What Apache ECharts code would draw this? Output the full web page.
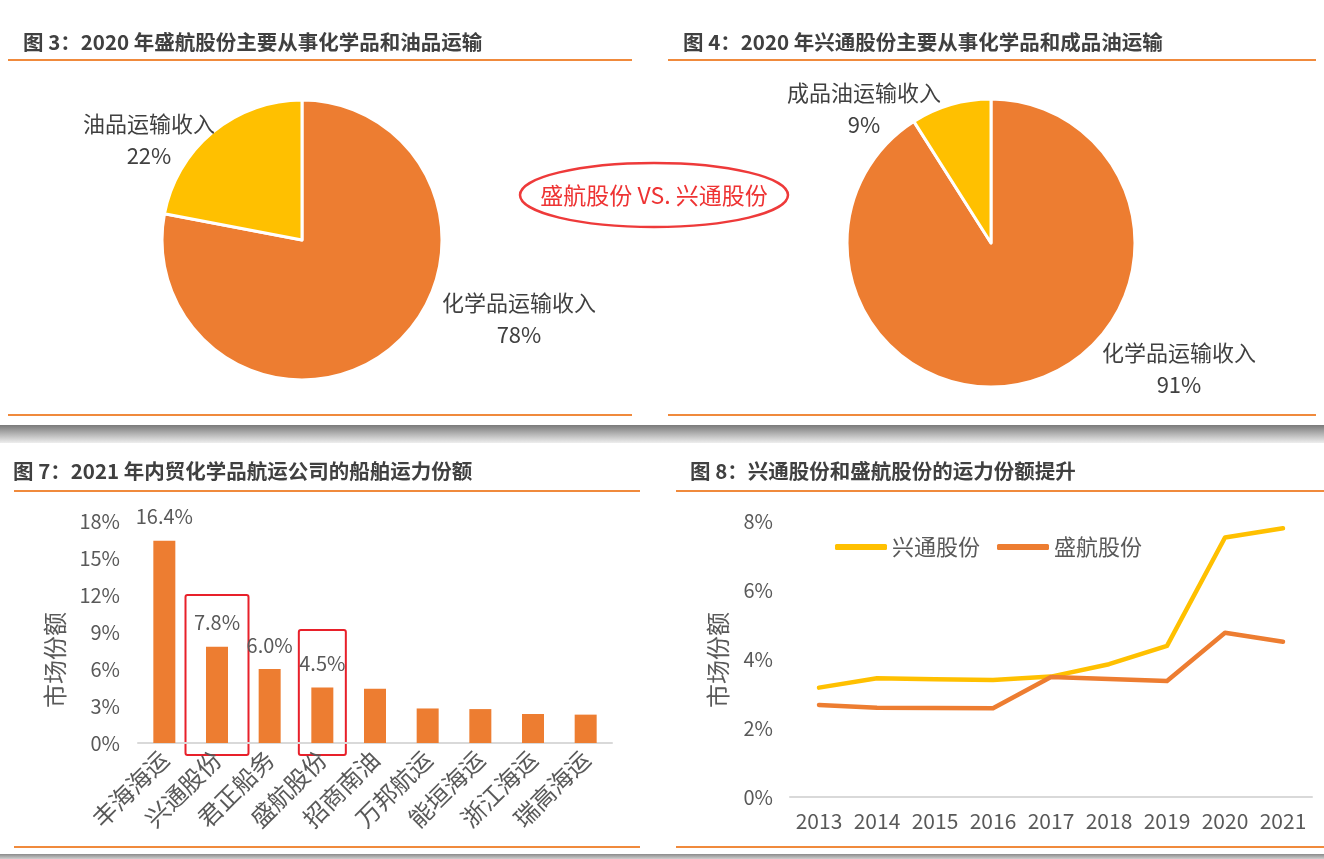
<!DOCTYPE html>
<html>
<head>
<meta charset="utf-8">
<script src="https://cdn.jsdelivr.net/npm/echarts@6/dist/echarts.min.js"></script>
<style>
  html, body { margin: 0; padding: 0; background: #fff; }
  #main { width: 1324px; height: 859px; }
</style>
</head>
<body>
<div id="main"></div>
<script>
// 数据
const pie1Data = [
  { name: '化学品运输收入', value: 78 },
  { name: '油品运输收入', value: 22 }
];
const pie2Data = [
  { name: '化学品运输收入', value: 91 },
  { name: '成品油运输收入', value: 9 }
];
const companies = ['丰海海运', '兴通股份', '君正船务', '盛航股份', '招商南油', '万邦航运', '能垣海运', '浙江海运', '瑞高海运'];
const shares = [16.4, 7.8, 6.0, 4.5, 4.4, 2.8, 2.75, 2.35, 2.3];
const years = ['2013', '2014', '2015', '2016', '2017', '2018', '2019', '2020', '2021'];
const xingtong = [3.17, 3.44, 3.41, 3.39, 3.49, 3.85, 4.38, 7.52, 7.79];
const shenghang = [2.67, 2.59, 2.58, 2.57, 3.48, 3.42, 3.36, 4.76, 4.50];

// 饼图标签位置
const pie1LabelPos = [[519, 319], [149, 140]];
const pie2LabelPos = [[1179, 369], [864, 109]];

const ORANGE = '#ED7D31';
const YELLOW = '#FFC000';
const PIE_COLORS = [ORANGE, YELLOW];
const TXT = '#595959';
const FONT = '"Noto Sans CJK SC", "Noto Sans", sans-serif';

let myChart = echarts.init(document.getElementById('main'));

function title(x, y, text) {
  return {
    type: 'text', x: x, y: y,
    style: { text: text, fill: '#404040', font: 'bold 20.5px ' + FONT, textVerticalAlign: 'middle' }
  };
}
function hline(x1, x2, y) {
  return {
    type: 'line', shape: { x1: x1, y1: y, x2: x2, y2: y },
    style: { stroke: '#F08A3C', lineWidth: 2 }
  };
}
function yName(x, y) {
  return {
    type: 'text', x: x, y: y, rotation: Math.PI / 2,
    style: { text: '市场份额', fill: TXT, font: '24px ' + FONT, textAlign: 'center', textVerticalAlign: 'middle' }
  };
}

const pieLabel = {
  show: true,
  color: '#404040',
  fontSize: 22,
  lineHeight: 32,
  fontFamily: FONT,
  formatter: p => p.name + '\n' + p.value + '%'
};

myChart.setOption({
  animation: false,
  textStyle: { fontFamily: FONT },
  legend: {
    data: ['兴通股份', '盛航股份'],
    left: 830, top: 531,
    icon: 'roundRect',
    itemWidth: 52, itemHeight: 6, itemGap: 17,
    textStyle: { color: TXT, fontSize: 22 }
  },
  grid: [
    { left: 138, right: 712, top: 521, bottom: 116 },
    { left: 790, right: 12, top: 521, bottom: 62 }
  ],
  xAxis: [
    {
      gridIndex: 0, type: 'category', data: companies,
      axisLine: { lineStyle: { color: '#d9d9d9', width: 2 } },
      axisTick: { show: false },
      axisLabel: { rotate: 45, color: TXT, fontSize: 24, margin: 12, interval: 0 }
    },
    {
      gridIndex: 1, type: 'category', data: years,
      axisLine: { lineStyle: { color: '#d9d9d9', width: 2 } },
      axisTick: { show: false },
      axisLabel: { color: TXT, fontSize: 21, margin: 14, interval: 0 }
    }
  ],
  yAxis: [
    {
      gridIndex: 0, type: 'value', min: 0, max: 18, interval: 3,
      axisLine: { show: false }, axisTick: { show: false }, splitLine: { show: false },
      axisLabel: { color: TXT, fontSize: 20, margin: 18, formatter: '{value}%' }
    },
    {
      gridIndex: 1, type: 'value', min: 0, max: 8, interval: 2,
      axisLine: { show: false }, axisTick: { show: false }, splitLine: { show: false },
      axisLabel: { color: TXT, fontSize: 20, margin: 17, formatter: '{value}%' }
    }
  ],
  series: [
    {
      type: 'pie', center: [302, 240], radius: 140, startAngle: 90,
      data: pie1Data,
      itemStyle: { color: p => PIE_COLORS[p.dataIndex], borderColor: '#fff', borderWidth: 3 },
      label: pieLabel, labelLine: { show: false },
      labelLayout: p => ({ x: pie1LabelPos[p.dataIndex][0], y: pie1LabelPos[p.dataIndex][1], align: 'center', verticalAlign: 'middle' })
    },
    {
      type: 'pie', center: [991, 243], radius: 144, startAngle: 90,
      data: pie2Data,
      itemStyle: { color: p => PIE_COLORS[p.dataIndex], borderColor: '#fff', borderWidth: 3 },
      label: pieLabel, labelLine: { show: false },
      labelLayout: p => ({ x: pie2LabelPos[p.dataIndex][0], y: pie2LabelPos[p.dataIndex][1], align: 'center', verticalAlign: 'middle' })
    },
    {
      type: 'bar', xAxisIndex: 0, yAxisIndex: 0,
      barWidth: 22,
      itemStyle: { color: ORANGE },
      data: shares.map((v, i) => ({ value: v, label: { show: i < 4 } })),
      label: {
        position: 'top', distance: 14, color: TXT, fontSize: 20,
        formatter: p => p.value.toFixed(1) + '%'
      }
    },
    {
      name: '兴通股份', type: 'line', xAxisIndex: 1, yAxisIndex: 1,
      data: xingtong, showSymbol: false, symbol: 'none',
      itemStyle: { color: YELLOW },
      lineStyle: { color: YELLOW, width: 4.5, cap: 'round', join: 'round' }
    },
    {
      name: '盛航股份', type: 'line', xAxisIndex: 1, yAxisIndex: 1,
      data: shenghang, showSymbol: false, symbol: 'none',
      itemStyle: { color: ORANGE },
      lineStyle: { color: ORANGE, width: 4.5, cap: 'round', join: 'round' }
    }
  ]
});

// 装饰：标题、分隔线、阴影、椭圆标注、红框
function boxAround(idx, halfW, top) {
  const c = myChart.convertToPixel({ gridIndex: 0 }, [idx, 0]);
  return {
    type: 'rect',
    shape: { x: c[0] - halfW, y: top, width: halfW * 2, height: c[1] + 12 - top, r: 2 },
    style: { fill: 'none', stroke: '#E8202A', lineWidth: 2 }
  };
}

myChart.setOption({
  graphic: [
    title(23, 42, '图 3：2020 年盛航股份主要从事化学品和油品运输'),
    title(683, 42, '图 4：2020 年兴通股份主要从事化学品和成品油运输'),
    title(13, 471, '图 7：2021 年内贸化学品航运公司的船舶运力份额'),
    title(690, 471, '图 8：兴通股份和盛航股份的运力份额提升'),
    hline(8, 632, 60), hline(668, 1316, 60),
    hline(8, 632, 415), hline(668, 1316, 415),
    hline(14, 640, 491), hline(676, 1324, 491),
    hline(14, 640, 847), hline(676, 1324, 847),
    {
      type: 'rect', shape: { x: 0, y: 425, width: 1324, height: 18 },
      style: {
        fill: new echarts.graphic.LinearGradient(0, 0, 0, 1, [
          { offset: 0, color: '#7a7a7a' },
          { offset: 1, color: '#eeeeee' }
        ])
      }
    },
    {
      type: 'rect', shape: { x: 0, y: 854, width: 1324, height: 5 },
      style: {
        fill: new echarts.graphic.LinearGradient(0, 0, 0, 1, [
          { offset: 0, color: '#8a8a8a' },
          { offset: 1, color: '#cfcfcf' }
        ])
      }
    },
    {
      type: 'ellipse', shape: { cx: 654, cy: 195, rx: 134, ry: 32 },
      style: { fill: 'none', stroke: '#EE3A3A', lineWidth: 2.5 }
    },
    {
      type: 'text', x: 654, y: 195,
      style: { text: '盛航股份 VS. 兴通股份', fill: '#EE3333', font: '23px ' + FONT, textAlign: 'center', textVerticalAlign: 'middle' }
    },
    yName(55, 660),
    yName(718, 660),
    boxAround(1, 31.5, 595),
    boxAround(3, 23.5, 630)
  ]
});
</script>
</body>
</html>
